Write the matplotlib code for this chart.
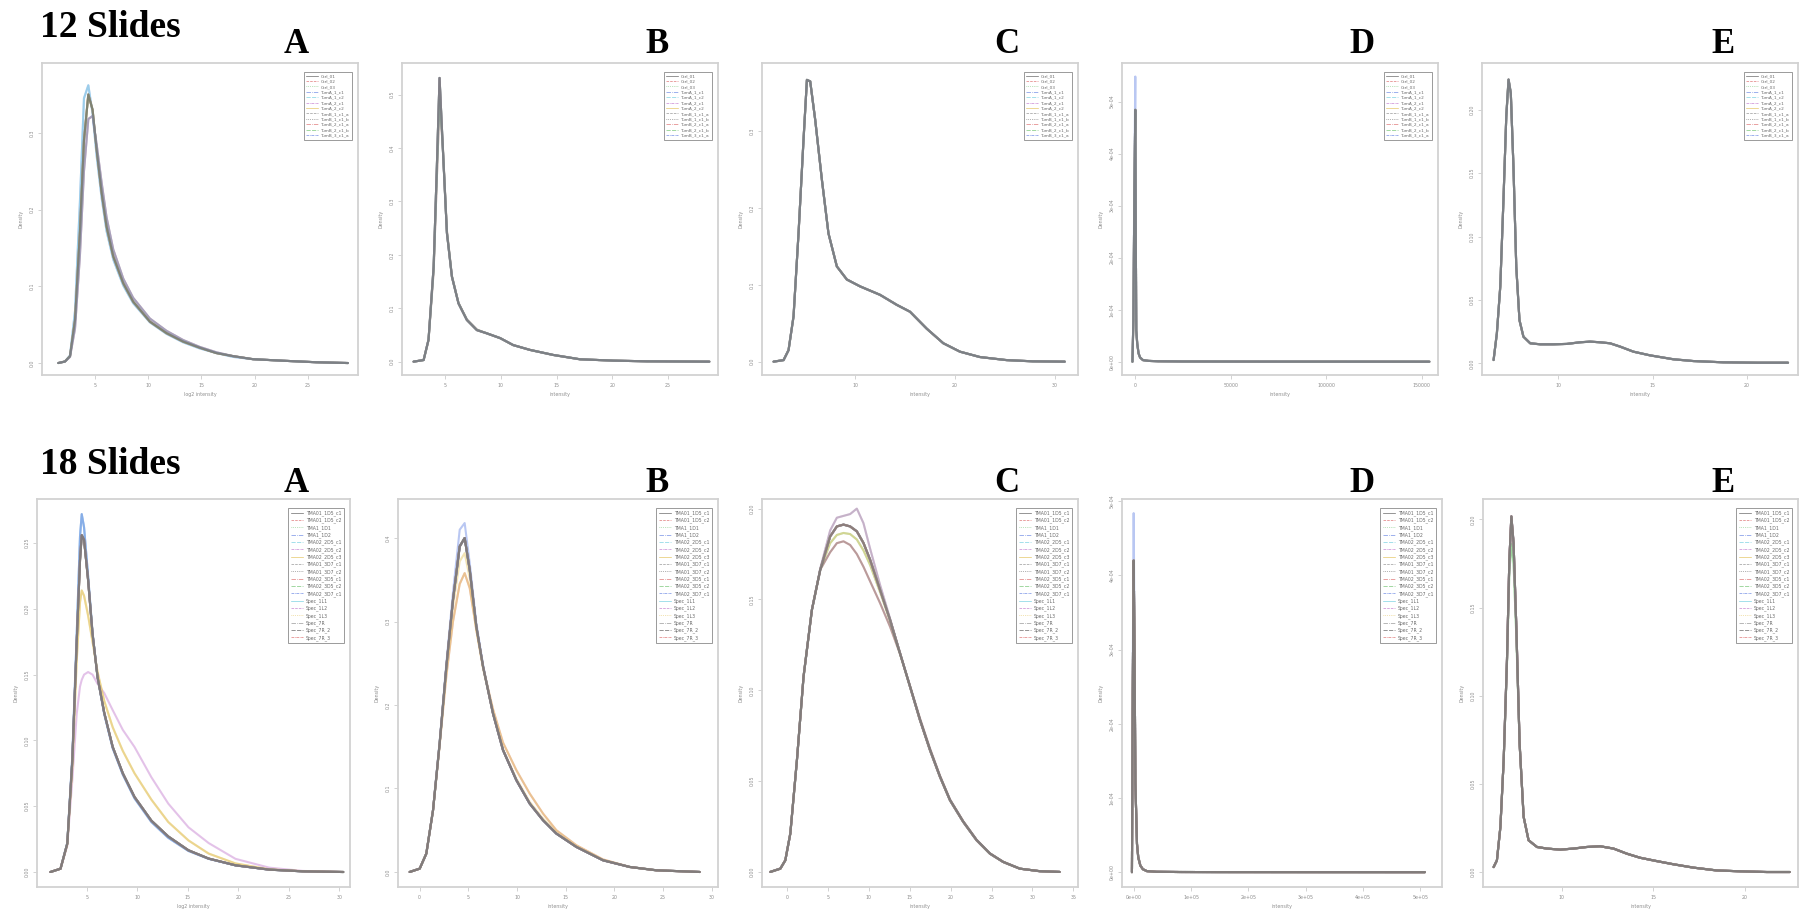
import matplotlib
matplotlib.use("Agg")
import matplotlib.pyplot as plt
from matplotlib.lines import Line2D

# ---------------- sample names ----------------
names_12 = ["Ctrl_01", "Ctrl_02", "Ctrl_03", "TumA_1_c1", "TumA_1_c2", "TumA_2_c1",
            "TumA_2_c2", "TumB_1_c1_a", "TumB_1_c1_b", "TumB_2_c1_a", "TumB_2_c1_b",
            "TumB_3_c1_a"]
names_18 = ["TMA01_1D5_c1", "TMA01_1D5_c2", "TMA1_1D1", "TMA1_1D2", "TMA02_2D5_c1",
            "TMA02_2D5_c2", "TMA02_2D5_c3", "TMA01_3D7_c1", "TMA01_3D7_c2",
            "TMA02_3D5_c1", "TMA02_3D5_c2", "TMA02_3D7_c1", "Spec_1L1", "Spec_1L2",
            "Spec_1L3", "Spec_7R", "Spec_7R_2", "Spec_7R_3"]

# ---------------- 12 slides, panel A ----------------
a12_x = [1.56, 2.19, 2.66, 3.13, 3.59, 3.97, 4.38, 4.78, 5.16, 5.63, 6.09, 6.72, 7.66,
         8.59, 10.16, 11.72, 13.28, 14.84, 16.4, 17.97, 19.84, 22.66, 25.8, 28.75]
a12_main = [0.0, 0.002, 0.009, 0.056, 0.17, 0.29, 0.35, 0.33, 0.278, 0.222, 0.178, 0.139,
            0.104, 0.080, 0.054, 0.039, 0.028, 0.020, 0.013, 0.009, 0.005, 0.003, 0.001, 0.0]
a12_high = [0.0, 0.002, 0.010, 0.068, 0.21, 0.345, 0.362, 0.325, 0.27, 0.215, 0.172, 0.135,
            0.101, 0.078, 0.053, 0.038, 0.027, 0.019, 0.013, 0.008, 0.005, 0.003, 0.001, 0.0]
a12_low = [0.0, 0.002, 0.008, 0.045, 0.14, 0.25, 0.318, 0.322, 0.285, 0.235, 0.19, 0.148,
           0.11, 0.085, 0.058, 0.042, 0.030, 0.021, 0.014, 0.009, 0.005, 0.003, 0.001, 0.0]
a12_use = ["main", "low", "main", "high", "high", "main", "main", "low", "main", "main",
           "main", "low"]

# ---------------- 12 slides, panel B ----------------
b12_x = [2.16, 3.06, 3.5, 3.96, 4.25, 4.49, 4.79, 5.15, 5.6, 6.19, 6.94, 7.84, 8.73, 9.93,
         11.1, 12.6, 14.7, 17.1, 20.1, 23.1, 28.7]
b12_main = [0.0, 0.003, 0.041, 0.178, 0.366, 0.531, 0.397, 0.241, 0.159, 0.109, 0.078,
            0.059, 0.053, 0.044, 0.031, 0.022, 0.0125, 0.0044, 0.0019, 0.0006, 0.0]
b12_low = [0.0, 0.003, 0.040, 0.17, 0.345, 0.49, 0.40, 0.245, 0.16, 0.11, 0.079, 0.06,
           0.053, 0.044, 0.031, 0.022, 0.0125, 0.0044, 0.0019, 0.0006, 0.0]
b12_use = ["main", "low", "main", "main", "main", "low", "main", "main", "main", "main",
           "low", "main"]

# ---------------- 12 slides, panel C ----------------
c12_x = [1.83, 2.83, 3.33, 3.83, 4.33, 4.83, 5.17, 5.5, 6.0, 6.67, 7.33, 8.17, 9.17, 10.5,
         12.5, 14.17, 15.5, 17.17, 18.83, 20.5, 22.5, 25.17, 27.8, 31.0]
c12_main = [0.0, 0.002, 0.015, 0.059, 0.167, 0.289, 0.367, 0.365, 0.315, 0.237, 0.167,
            0.124, 0.107, 0.098, 0.087, 0.074, 0.065, 0.043, 0.024, 0.013, 0.006, 0.002,
            0.0004, 0.0]
c12_use = ["main"] * 12

# ---------------- 12 slides, panel D ----------------
d12_x = [-1500, -1000, -500, 0, 250, 500, 1000, 1700, 2500, 4000, 7000, 12000, 25000,
         60000, 120000, 154000]
d12_main = [0.0, 0.8e-4, 3.2e-4, 4.84e-4, 2.5e-4, 0.6e-4, 0.35e-4, 0.16e-4, 0.08e-4,
            0.03e-4, 0.015e-4, 0.008e-4, 0.004e-4, 0.002e-4, 0.001e-4, 0.0]
d12_high = [0.0, 0.9e-4, 3.6e-4, 5.48e-4, 2.7e-4, 0.6e-4, 0.35e-4, 0.16e-4, 0.08e-4,
            0.03e-4, 0.015e-4, 0.008e-4, 0.004e-4, 0.002e-4, 0.001e-4, 0.0]
d12_use = ["main", "main", "main", "high", "main", "main", "main", "main", "main", "main",
           "main", "main"]

# ---------------- 12 slides, panel E ----------------
e12_x = [6.555, 6.73, 6.91, 7.08, 7.23, 7.35, 7.47, 7.61, 7.76, 7.93, 8.14, 8.5, 9.03,
         9.73, 10.44, 11.15, 11.68, 12.21, 12.74, 13.27, 13.98, 14.86, 16.1, 17.16, 18.75,
         20.51, 22.19]
e12_main = [0.0026, 0.0237, 0.0605, 0.129, 0.195, 0.2237, 0.213, 0.155, 0.076, 0.034,
            0.021, 0.0158, 0.015, 0.015, 0.0153, 0.0166, 0.0171, 0.0166, 0.0158, 0.0132,
            0.0092, 0.0063, 0.0032, 0.0018, 0.0008, 0.0005, 0.0005]
e12_use = ["main"] * 12

# ---------------- 18 slides, panel A ----------------
a18_x = [1.4, 2.4, 3.07, 3.57, 4.0, 4.33, 4.5, 4.73, 5.13, 5.57, 6.07, 6.73, 7.57, 8.57,
         9.73, 11.4, 13.07, 15.07, 17.07, 19.73, 23.07, 26.4, 30.4]
a18_main = [0.0, 0.0025, 0.0216, 0.085, 0.174, 0.237, 0.256, 0.2525, 0.222, 0.181, 0.148,
            0.121, 0.095, 0.075, 0.057, 0.039, 0.027, 0.0165, 0.0102, 0.0051, 0.0018,
            0.0005, 0.0]
a18_high = [0.0, 0.0025, 0.022, 0.088, 0.18, 0.255, 0.272, 0.262, 0.225, 0.182, 0.148,
            0.12, 0.094, 0.074, 0.056, 0.038, 0.026, 0.016, 0.01, 0.005, 0.0018, 0.0005, 0.0]
a18_orange = [0.0, 0.0025, 0.021, 0.08, 0.16, 0.205, 0.214, 0.21, 0.195, 0.175, 0.152,
              0.13, 0.11, 0.092, 0.075, 0.055, 0.038, 0.024, 0.014, 0.0065, 0.002, 0.0006, 0.0]
a18_purple = [0.0, 0.0025, 0.02, 0.07, 0.12, 0.141, 0.146, 0.15, 0.152, 0.15, 0.143, 0.136,
              0.123, 0.108, 0.095, 0.072, 0.052, 0.034, 0.022, 0.010, 0.0033, 0.0008, 0.0]
a18_use = ["main", "main", "main", "high", "high", "purple", "orange", "main", "main",
           "main", "main", "high", "main", "main", "orange", "main", "main", "main"]

# ---------------- 18 slides, panel B ----------------
b18_x = [-1.03, 0.0, 0.68, 1.37, 2.05, 2.74, 3.42, 4.11, 4.62, 5.14, 5.82, 6.51, 7.53,
         8.56, 9.93, 11.3, 12.67, 14.04, 16.1, 18.84, 21.58, 24.32, 28.77]
b18_main = [0.0, 0.004, 0.022, 0.074, 0.154, 0.246, 0.326, 0.39, 0.40, 0.362, 0.294, 0.246,
            0.19, 0.146, 0.11, 0.082, 0.062, 0.046, 0.03, 0.014, 0.006, 0.002, 0.0]
b18_high = [0.0, 0.004, 0.022, 0.075, 0.156, 0.25, 0.335, 0.41, 0.418, 0.37, 0.298, 0.248,
            0.19, 0.146, 0.11, 0.082, 0.062, 0.046, 0.03, 0.014, 0.006, 0.002, 0.0]
b18_pink = [0.0, 0.004, 0.022, 0.074, 0.152, 0.235, 0.3, 0.345, 0.358, 0.34, 0.29, 0.245,
            0.195, 0.155, 0.122, 0.094, 0.07, 0.05, 0.032, 0.015, 0.006, 0.002, 0.0]
b18_mid = [0.0, 0.004, 0.022, 0.074, 0.153, 0.242, 0.318, 0.372, 0.382, 0.352, 0.29, 0.244,
           0.19, 0.147, 0.112, 0.084, 0.064, 0.047, 0.03, 0.014, 0.006, 0.002, 0.0]
b18_use = ["main", "pink", "main", "high", "main", "main", "mid", "main", "main", "main",
           "main", "main", "main", "main", "pink", "main", "main", "main"]

# ---------------- 18 slides, panel C ----------------
c18_x = [-2.03, -0.81, -0.2, 0.41, 1.22, 2.03, 3.05, 4.07, 5.28, 6.1, 6.91, 7.72, 8.54,
         9.35, 10.16, 11.38, 12.6, 13.82, 15.04, 16.26, 17.48, 18.7, 19.92, 21.54, 23.17,
         24.8, 26.42, 28.46, 30.9, 33.33]
c18_main = [0.0, 0.0018, 0.0064, 0.0211, 0.0616, 0.1076, 0.1443, 0.1664, 0.1847, 0.1902,
            0.1912, 0.1902, 0.1875, 0.1811, 0.1719, 0.1553, 0.1388, 0.1204, 0.1020, 0.0836,
            0.0671, 0.0524, 0.0395, 0.0276, 0.0175, 0.0101, 0.0055, 0.0018, 0.0004, 0.0]
c18_purple = [0.0, 0.0018, 0.0064, 0.0211, 0.0616, 0.1076, 0.1443, 0.167, 0.188, 0.195,
              0.196, 0.197, 0.2, 0.192, 0.178, 0.158, 0.1395, 0.1204, 0.1020, 0.0836,
              0.0671, 0.0524, 0.0395, 0.0276, 0.0175, 0.0101, 0.0055, 0.0018, 0.0004, 0.0]
c18_low = [0.0, 0.0018, 0.0064, 0.0211, 0.0616, 0.1076, 0.1443, 0.1664, 0.176, 0.181,
           0.182, 0.180, 0.175, 0.168, 0.16, 0.148, 0.135, 0.12, 0.1025, 0.0845, 0.068,
           0.053, 0.040, 0.028, 0.0178, 0.0103, 0.0056, 0.0018, 0.0004, 0.0]
c18_yellow = [0.0, 0.0018, 0.0064, 0.0211, 0.0616, 0.1076, 0.1443, 0.1664, 0.181, 0.1855,
              0.1866, 0.1860, 0.183, 0.177, 0.169, 0.154, 0.138, 0.12, 0.102, 0.0836,
              0.0671, 0.0524, 0.0395, 0.0276, 0.0175, 0.0101, 0.0055, 0.0018, 0.0004, 0.0]
c18_use = ["main", "low", "yellow", "main", "main", "purple", "yellow", "main", "low",
           "main", "main", "main", "main", "main", "main", "purple", "main", "main"]

# ---------------- 18 slides, panel D ----------------
d18_x = [-3000, -1500, 0, 1500, 3000, 5800, 8000, 11600, 16000, 23000, 40000, 80000,
         150000, 300000, 508000]
d18_main = [0.0, 2.5e-4, 4.2e-4, 3.0e-4, 1.2e-4, 3.8e-5, 2.0e-5, 9e-6, 4e-6, 1.4e-6,
            5e-7, 2e-7, 1e-7, 5e-8, 0.0]
d18_high = [0.0, 2.8e-4, 4.84e-4, 3.2e-4, 1.2e-4, 3.8e-5, 2.0e-5, 9e-6, 4e-6, 1.4e-6,
            5e-7, 2e-7, 1e-7, 5e-8, 0.0]
d18_use = ["main", "main", "main", "high", "main", "main", "main", "main", "main", "main",
           "main", "main", "main", "main", "main", "main", "main", "main"]

# ---------------- 18 slides, panel E ----------------
e18_x = [6.27, 6.45, 6.64, 6.82, 7.0, 7.13, 7.24, 7.36, 7.51, 7.69, 7.91, 8.18, 8.64, 9.18,
         9.91, 10.64, 11.36, 12.09, 12.82, 13.55, 14.27, 15.18, 16.09, 17.18, 18.45, 19.73,
         21.18, 22.45]
e18_main = [0.0028, 0.0066, 0.0255, 0.0634, 0.1203, 0.1771, 0.2017, 0.1866, 0.1392, 0.0729,
            0.0313, 0.0180, 0.0142, 0.0133, 0.0127, 0.0133, 0.0142, 0.0146, 0.0133, 0.0104,
            0.0081, 0.0062, 0.0044, 0.0025, 0.0009, 0.0004, 0.0, 0.0]
e18_low = [0.0028, 0.0066, 0.0255, 0.0634, 0.118, 0.170, 0.186, 0.175, 0.134, 0.0729,
           0.0313, 0.0180, 0.0142, 0.0133, 0.0127, 0.0133, 0.0142, 0.0146, 0.0133, 0.0104,
           0.0081, 0.0062, 0.0044, 0.0025, 0.0009, 0.0004, 0.0, 0.0]
e18_use = ["main", "main", "low", "main", "main", "main", "main", "main", "main", "main",
           "low", "main", "main", "main", "main", "main", "main", "main"]

# ---------------- styling ----------------
W, H = 1808, 913
series_colors = ["#6a6a6a", "#e07a7a", "#7cc87c", "#7590e6", "#7fd3e3", "#c987d3",
                 "#e6c86a", "#9a9a9a"]
series_styles = ["-", "--", ":", "-.", (0, (6, 2)), (0, (4, 1, 1, 1))]
frame_col = "#d2d2d2"
tick_col = "#8e8e8e"

fig = plt.figure(figsize=(W / 100, H / 100), dpi=100)
fig.patch.set_facecolor("white")


def panel(box, x, curves, use, names, xlim, ylim, xticks, xtl, yticks, ytl, xlabel,
          leg_fs, leg_sp):
    l, t, r, b = box
    ax = fig.add_axes([l / W, 1 - b / H, (r - l) / W, (b - t) / H])
    handles = []
    for i, key in enumerate(use):
        ci = i % len(series_colors)
        col = series_colors[ci]
        # grey/black samples sit on top of the coloured ones
        grey = ci in (0, 7)
        ax.plot(x, curves[key], color=col, lw=1.5, alpha=0.4 if grey else 0.5,
                zorder=3 if grey else 2, solid_joinstyle="round",
                solid_capstyle="round")
        handles.append(Line2D([], [], color=col, lw=0.5,
                              ls=series_styles[i % len(series_styles)]))
    ax.set_xlim(*xlim)
    ax.set_ylim(*ylim)
    ax.set_xticks(xticks)
    ax.set_xticklabels(xtl)
    ax.set_yticks(yticks)
    ax.set_yticklabels(ytl, rotation=90, va="center")
    ax.tick_params(direction="out", length=3, width=0.7, color=frame_col,
                   labelsize=3.4, labelcolor=tick_col, pad=2.5)
    for s in ax.spines.values():
        s.set_color(frame_col)
        s.set_linewidth(1.3)
    ax.set_xlabel(xlabel, fontsize=3.4, color=tick_col, labelpad=3)
    ax.set_ylabel("Density", fontsize=3.4, color=tick_col, labelpad=4)
    wpx, hpx = r - l, b - t
    leg = ax.legend(handles, names, loc="upper right",
                    bbox_to_anchor=(1 - 6 / wpx, 1 - 9 / hpx), borderaxespad=0,
                    fontsize=leg_fs, labelspacing=leg_sp, handlelength=2.6,
                    handletextpad=0.8, borderpad=0.5, fancybox=False, framealpha=1,
                    edgecolor="#8a8a8a")
    leg.set_zorder(5)
    leg.get_frame().set_linewidth(0.6)
    for txt in leg.get_texts():
        txt.set_color("#6a6a6a")
    return ax


sci_y = ["0e+00", "1e-04", "2e-04", "3e-04", "4e-04", "5e-04"]
top, bot = (63, 375), (499, 887)

# 12 slides row
panel((42, top[0], 358, top[1]), a12_x,
      {"main": a12_main, "high": a12_high, "low": a12_low}, a12_use, names_12,
      (0.03, 29.7), (-0.0156, 0.391), [5, 10, 15, 20, 25], ["5", "10", "15", "20", "25"],
      [0, 0.1, 0.2, 0.3], ["0.0", "0.1", "0.2", "0.3"], "log2 intensity", 3.1, 0.32)
panel((402, top[0], 718, top[1]), b12_x, {"main": b12_main, "low": b12_low}, b12_use,
      names_12, (1.12, 29.48), (-0.025, 0.559), [5, 10, 15, 20, 25],
      ["5", "10", "15", "20", "25"], [0, 0.1, 0.2, 0.3, 0.4, 0.5],
      ["0.0", "0.1", "0.2", "0.3", "0.4", "0.5"], "intensity", 3.1, 0.32)
panel((762, top[0], 1078, top[1]), c12_x, {"main": c12_main}, c12_use, names_12,
      (0.67, 32.33), (-0.0174, 0.389), [10, 20, 30], ["10", "20", "30"],
      [0, 0.1, 0.2, 0.3], ["0.0", "0.1", "0.2", "0.3"], "intensity", 3.1, 0.32)
panel((1122, top[0], 1438, top[1]), d12_x, {"main": d12_main, "high": d12_high}, d12_use,
      names_12, (-6970, 158540), (-0.256e-4, 5.74e-4), [0, 50000, 100000, 150000],
      ["0", "50000", "100000", "150000"], [0, 1e-4, 2e-4, 3e-4, 4e-4, 5e-4], sci_y,
      "intensity", 3.1, 0.32)
panel((1482, top[0], 1798, top[1]), e12_x, {"main": e12_main}, e12_use, names_12,
      (5.94, 22.72), (-0.0092, 0.2368), [10, 15, 20], ["10", "15", "20"],
      [0, 0.05, 0.1, 0.15, 0.2], ["0.00", "0.05", "0.10", "0.15", "0.20"], "intensity",
      3.1, 0.32)

# 18 slides row
panel((37, bot[0], 350, bot[1]), a18_x,
      {"main": a18_main, "high": a18_high, "orange": a18_orange, "purple": a18_purple},
      a18_use, names_18, (0.07, 31.07), (-0.0114, 0.2835), [5, 10, 15, 20, 25, 30],
      ["5", "10", "15", "20", "25", "30"], [0, 0.05, 0.1, 0.15, 0.2, 0.25],
      ["0.00", "0.05", "0.10", "0.15", "0.20", "0.25"], "log2 intensity", 3.3, 0.36)
panel((398, bot[0], 718, bot[1]), b18_x,
      {"main": b18_main, "high": b18_high, "pink": b18_pink, "mid": b18_mid}, b18_use,
      names_18, (-2.23, 30.65), (-0.018, 0.4468), [0, 5, 10, 15, 20, 25, 30],
      ["0", "5", "10", "15", "20", "25", "30"], [0, 0.1, 0.2, 0.3, 0.4],
      ["0.0", "0.1", "0.2", "0.3", "0.4"], "intensity", 3.3, 0.36)
panel((762, bot[0], 1078, bot[1]), c18_x,
      {"main": c18_main, "purple": c18_purple, "low": c18_low, "yellow": c18_yellow},
      c18_use, names_18, (-3.05, 35.57), (-0.0083, 0.2053),
      [0, 5, 10, 15, 20, 25, 30, 35], ["0", "5", "10", "15", "20", "25", "30", "35"],
      [0, 0.05, 0.1, 0.15, 0.2], ["0.00", "0.05", "0.10", "0.15", "0.20"], "intensity",
      3.3, 0.36)
panel((1122, bot[0], 1442, bot[1]), d18_x, {"main": d18_main, "high": d18_high}, d18_use,
      names_18, (-20350, 537800), (-0.2e-4, 5.03e-4),
      [0, 1e5, 2e5, 3e5, 4e5, 5e5], ["0e+00", "1e+05", "2e+05", "3e+05", "4e+05", "5e+05"],
      [0, 1e-4, 2e-4, 3e-4, 4e-4, 5e-4], sci_y, "intensity", 3.3, 0.36)
panel((1483, bot[0], 1798, bot[1]), e18_x, {"main": e18_main, "low": e18_low}, e18_use,
      names_18, (5.69, 22.9), (-0.0085, 0.2116), [10, 15, 20], ["10", "15", "20"],
      [0, 0.05, 0.1, 0.15, 0.2], ["0.00", "0.05", "0.10", "0.15", "0.20"], "intensity",
      3.3, 0.36)

# row headings and panel letters
serif = ["Liberation Serif", "DejaVu Serif"]
fig.text(40 / W, 1 - 37 / H, "12 Slides", family=serif, weight="bold", fontsize=27,
         va="baseline", ha="left")
fig.text(40 / W, 1 - 474 / H, "18 Slides", family=serif, weight="bold", fontsize=27,
         va="baseline", ha="left")
letters = ["A", "B", "C", "D", "E"]
letter_x = [296, 657, 1007, 1362, 1723]
for lab, xc in zip(letters, letter_x):
    fig.text(xc / W, 1 - 53 / H, lab, family=serif, weight="bold", fontsize=25,
             va="baseline", ha="center")
    fig.text(xc / W, 1 - 492 / H, lab, family=serif, weight="bold", fontsize=25,
             va="baseline", ha="center")

fig.savefig("out.png", dpi=100, facecolor="white")
